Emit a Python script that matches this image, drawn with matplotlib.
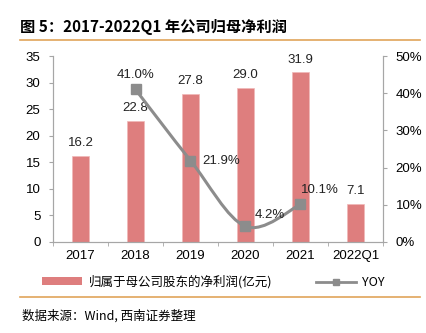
import numpy as np
import matplotlib
matplotlib.use('Agg')
import matplotlib.pyplot as plt
from matplotlib.path import Path
from matplotlib.patches import PathPatch
from matplotlib.lines import Line2D
from matplotlib.patches import Patch

plt.rcParams['font.family'] = ['Liberation Sans', 'Noto Sans CJK SC', 'DejaVu Sans']

# data
years = ['2017', '2018', '2019', '2020', '2021', '2022Q1']
profit = [16.2, 22.8, 27.8, 29.0, 31.9, 7.1]
yoy_idx = [1, 2, 3, 4]
yoy = [41.0, 21.9, 4.2, 10.1]

bar_color = '#DE7E7E'
line_color = '#8C8C8C'
spine_color = '#A6A6A6'
orange = '#E0A45A'
cjk = ['Noto Sans CJK SC', 'DejaVu Sans']

fig = plt.figure(figsize=(4.27, 3.33), dpi=100)
ax = fig.add_axes([53/427, 1 - 242/333, 330/427, (242 - 56)/333])
ax2 = ax.twinx()

x = np.arange(len(years))
ax.bar(x, profit, width=0.31, color=bar_color, edgecolor='#F0B8B8', linewidth=0.5, zorder=2)
for xi, v in zip(x, profit):
    ax.text(xi, v + 1.3, f'{v:.1f}', ha='center', va='bottom', fontsize=9.5, color='#222222')

ax.set_xlim(-0.5, len(years) - 0.5)
ax.set_ylim(0, 35)
ax.set_yticks(range(0, 36, 5))
ax.set_xticks(x)
ax.set_xticklabels(years)
ax.set_xticks(np.arange(-0.5, len(years)), minor=True)
ax.tick_params(axis='x', which='major', length=0, pad=6, labelsize=9.5)
ax.tick_params(axis='x', which='minor', length=3, direction='out', color=spine_color)
ax.tick_params(axis='y', length=3, color=spine_color, labelsize=9.5, pad=6)

ax2.set_ylim(0, 50)
ax2.set_yticks(range(0, 51, 10))
ax2.set_yticklabels([f'{t}%' for t in range(0, 51, 10)])
ax2.tick_params(axis='y', length=3, color=spine_color, labelsize=9.5, pad=6)

for a in (ax, ax2):
    a.spines['top'].set_visible(False)
    for s in ('left', 'right', 'bottom'):
        a.spines[s].set_color(spine_color)

# smoothed yoy line (Catmull-Rom -> cubic bezier)
px = np.array(yoy_idx, dtype=float)
py = np.array(yoy, dtype=float)
verts = [(px[0], py[0])]
codes = [Path.MOVETO]
n = len(px)
for i in range(n - 1):
    p0 = (px[i - 1], py[i - 1]) if i > 0 else (px[i], py[i])
    p1 = (px[i], py[i])
    p2 = (px[i + 1], py[i + 1])
    p3 = (px[i + 2], py[i + 2]) if i + 2 < n else p2
    t = 0.5 / 3 * 2
    c1 = (p1[0] + (p2[0] - p0[0]) * t / 2, p1[1] + (p2[1] - p0[1]) * t / 2)
    c2 = (p2[0] - (p3[0] - p1[0]) * t / 2, p2[1] - (p3[1] - p1[1]) * t / 2)
    verts += [c1, c2, p2]
    codes += [Path.CURVE4] * 3
ax2.add_patch(PathPatch(Path(verts, codes), facecolor='none', edgecolor=line_color, lw=2.2, zorder=3))
ax2.plot(px, py, ls='none', marker='s', ms=7, color=line_color, zorder=4)

offsets = [(0, 2.2, 'center'), (0.22, 0, 'left'), (0.17, 1.5, 'left'), (0, 2.2, 'left')]
for xi, v, (dx, dy, ha) in zip(px, py, offsets):
    ax2.text(xi + dx, v + dy, f'{v:.1f}%', ha=ha, va='bottom' if dy else 'center',
             fontsize=9.5, color='#222222')

# title and source
fig.text(20/427, 1 - 27/333, '图 5：2017-2022Q1 年公司归母净利润', fontsize=11, fontweight='bold',
         family=cjk, va='center', ha='left')
fig.add_artist(Line2D([20/427, 420/427], [1 - 40/333] * 2, color=orange, lw=1.2))
fig.add_artist(Line2D([20/427, 420/427], [1 - 297/333] * 2, color=orange, lw=1.2))
fig.text(22/427, 1 - 316/333, '数据来源：Wind, 西南证券整理', fontsize=9, style='italic',
         family=cjk, va='center', ha='left')

handles = [Patch(facecolor=bar_color, edgecolor='none'),
           Line2D([], [], color=line_color, lw=2, marker='s', ms=5)]
leg = fig.legend(handles, ['归属于母公司股东的净利润(亿元)', 'YOY'], ncol=2, frameon=False,
                 loc='center', bbox_to_anchor=(0.5, 1 - 282/333),
                 prop={'family': cjk, 'size': 9}, handlelength=3.2, handleheight=0.6,
                 columnspacing=3.5, handletextpad=0.5)

fig.savefig('out.png', dpi=100)
